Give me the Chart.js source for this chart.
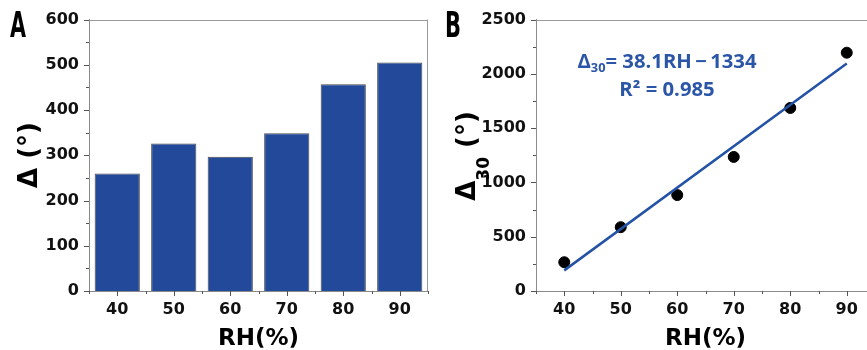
<!DOCTYPE html>
<html>
<head>
<meta charset="utf-8">
<script src="https://cdn.jsdelivr.net/npm/chart.js@4"></script>
<style>
  html, body { margin: 0; padding: 0; background: #fff; overflow: hidden; width: 867px; height: 350px; }
  #wrapA { position: absolute; left: 0; top: 0; width: 433px; height: 350px; }
  #wrapB { position: absolute; left: 433px; top: 0; width: 450px; height: 350px; }
</style>
</head>
<body>
<div id="wrapA"><canvas id="chartA"></canvas></div>
<div id="wrapB"><canvas id="chartB"></canvas></div>
<script>
// panel A: bars
const rhLabels = ["40", "50", "60", "70", "80", "90"];
const deltaValues = [260, 326, 297, 349, 457, 505];
const yTicksA = [0, 100, 200, 300, 400, 500, 600];

// panel B: scatter + linear fit
const rhPoints = [40, 50, 60, 70, 80, 90];
const delta30Values = [265, 588, 884, 1235, 1686, 2195];
const fitX = [40, 90];
const fitY = [190, 2095];
const xTicksB = [40, 50, 60, 70, 80, 90];
const yTicksB = [0, 500, 1000, 1500, 2000, 2500];

const blue = "#22499a";
const lineBlue = "#2452a4";
const textBlue = "#2b56a8";
const tickFont = { family: "DejaVu Sans", size: 16, weight: "bold" };

// frame on top/right and outward major/minor tick marks
const frameTicks = {
  id: "frameTicks",
  afterDraw(chart) {
    const { ctx, chartArea: a, scales } = chart;
    const x = scales.x, y = scales.y;
    ctx.save();
    ctx.lineWidth = 1;
    ctx.strokeStyle = "#9a9a9a";
    ctx.beginPath();
    ctx.moveTo(a.left, Math.round(a.top) + 0.5);
    ctx.lineTo(a.right, Math.round(a.top) + 0.5);
    ctx.moveTo(Math.round(a.right) - 0.5, a.top);
    ctx.lineTo(Math.round(a.right) - 0.5, a.bottom);
    ctx.stroke();

    ctx.strokeStyle = "#555";
    ctx.beginPath();
    // y ticks
    const yv = y.ticks.map(t => t.value);
    yv.forEach((v, i) => {
      const py = Math.round(y.getPixelForValue(v)) + 0.5;
      ctx.moveTo(a.left - 5, py); ctx.lineTo(a.left, py);
      if (i < yv.length - 1) {
        const pm = Math.round(y.getPixelForValue((v + yv[i + 1]) / 2)) + 0.5;
        ctx.moveTo(a.left - 3, pm); ctx.lineTo(a.left, pm);
      }
    });
    // x ticks
    const b = Math.round(a.bottom);
    if (x.type === "category") {
      const n = x.getLabels().length;
      for (let i = 0; i < n; i++) {
        const px = Math.round(x.getPixelForValue(i)) + 0.5;
        ctx.moveTo(px, b); ctx.lineTo(px, b + 5);
      }
      for (let i = 0; i <= n; i++) {
        const px = Math.round(x.getPixelForValue(i - 0.5)) + 0.5;
        ctx.moveTo(px, b); ctx.lineTo(px, b + 3);
      }
    } else {
      const xv = x.ticks.map(t => t.value);
      const step = xv[1] - xv[0];
      xv.forEach(v => {
        const px = Math.round(x.getPixelForValue(v)) + 0.5;
        ctx.moveTo(px, b); ctx.lineTo(px, b + 5);
      });
      const minors = xv.map(v => v - step / 2).concat([xv[xv.length - 1] + step / 2]);
      minors.forEach(v => {
        if (v < x.min || v > x.max) return;
        const px = Math.round(x.getPixelForValue(v)) + 0.5;
        ctx.moveTo(px, b); ctx.lineTo(px, b + 3);
      });
    }
    ctx.stroke();
    ctx.restore();
  }
};

function drawPanelLetter(ctx, letter, left, baseline, width) {
  ctx.save();
  ctx.fillStyle = "#000";
  ctx.font = 'bold 36px "Liberation Sans Narrow", "DejaVu Sans Condensed", sans-serif';
  const w = ctx.measureText(letter).width;
  ctx.translate(left, baseline);
  ctx.scale(width / w, 1);
  ctx.textAlign = "left";
  ctx.textBaseline = "alphabetic";
  ctx.fillText(letter, 0, 0);
  ctx.restore();
}

function drawXTitle(chart) {
  const { ctx, chartArea: a } = chart;
  ctx.save();
  ctx.fillStyle = "#000";
  ctx.font = 'bold 23px "DejaVu Sans"';
  ctx.textAlign = "center";
  ctx.textBaseline = "alphabetic";
  ctx.fillText("RH(%)", (a.left + a.right) / 2, 345);
  ctx.restore();
}

// y title drawn rotated, parts = [text, size, shift]
function drawYTitle(ctx, parts, baseX, centerY) {
  ctx.save();
  ctx.fillStyle = "#000";
  ctx.translate(baseX, centerY);
  ctx.rotate(-Math.PI / 2);
  ctx.textAlign = "left";
  ctx.textBaseline = "alphabetic";
  let total = 0;
  parts.forEach(p => { ctx.font = `bold ${p[1]}px "DejaVu Sans"`; total += ctx.measureText(p[0]).width; });
  let cx = -total / 2;
  parts.forEach(p => {
    ctx.font = `bold ${p[1]}px "DejaVu Sans"`;
    ctx.fillText(p[0], cx, p[2]);
    cx += ctx.measureText(p[0]).width;
  });
  ctx.restore();
}

const textsA = {
  id: "textsA",
  afterDraw(chart) {
    drawPanelLetter(chart.ctx, "A", 10, 37, 16);
    drawXTitle(chart);
    drawYTitle(chart.ctx, [["\u0394 (\u00b0)", 26, 0]], 37, 155);
  }
};

const textsB = {
  id: "textsB",
  afterDraw(chart) {
    const ctx = chart.ctx;
    drawPanelLetter(ctx, "B", 12, 37, 16);
    drawXTitle(chart);
    drawYTitle(ctx, [["\u0394", 26, 0], ["30", 17, 14], [" (\u00b0)", 26, 0]], 42, 156);

    // fit equation
    ctx.save();
    ctx.fillStyle = textBlue;
    ctx.textBaseline = "alphabetic";
    const big = 'bold 19px "Open Sans"', small = 'bold 12px "Open Sans"';
    const p1 = [["\u0394", big, 0], ["30", small, 4], ["= 38.1RH\u2009\u2212\u20091334", big, 0]];
    let w1 = 0;
    p1.forEach(p => { ctx.font = p[1]; w1 += ctx.measureText(p[0]).width; });
    const sx = 179 / w1;
    const cx = 234;
    ctx.save();
    ctx.translate(cx, 68);
    ctx.scale(sx, 1);
    let px = -w1 / 2;
    p1.forEach(p => { ctx.font = p[1]; ctx.fillText(p[0], px, p[2]); px += ctx.measureText(p[0]).width; });
    ctx.restore();
    ctx.save();
    ctx.translate(cx, 96);
    ctx.scale(sx, 1);
    ctx.font = big;
    ctx.textAlign = "center";
    ctx.fillText("R\u00b2 = 0.985", 0, 0);
    ctx.restore();
    ctx.restore();
  }
};

function baseScaleY(min, max, ticksArr, width) {
  return {
    min: min, max: max,
    afterBuildTicks: s => { s.ticks = ticksArr.map(v => ({ value: v })); },
    afterFit: s => { s.width = width; },
    grid: { display: false, drawTicks: false },
    border: { display: true, color: "#8a8a8a", width: 1 },
    ticks: { color: "#111", font: tickFont, padding: 10, callback: v => String(v) }
  };
}

function baseScaleX(width) {
  return {
    afterFit: s => { s.height = 59; },
    grid: { display: false, drawTicks: false },
    border: { display: true, color: "#8a8a8a", width: 1 },
    ticks: { color: "#111", font: tickFont, padding: 9 }
  };
}

new Chart(document.getElementById("chartA"), {
  type: "bar",
  data: {
    labels: rhLabels,
    datasets: [{
      data: deltaValues,
      backgroundColor: blue,
      borderColor: "#4a4a4a",
      borderWidth: 1,
      barPercentage: 0.8,
      categoryPercentage: 1.0
    }]
  },
  options: {
    responsive: true,
    maintainAspectRatio: false,
    animation: false,
    layout: { padding: { top: 17, right: 5, left: 0, bottom: 0 } },
    plugins: { legend: { display: false }, tooltip: { enabled: false } },
    scales: {
      x: baseScaleX(),
      y: baseScaleY(0, 600, yTicksA, 89)
    }
  },
  plugins: [frameTicks, textsA]
});

const xB = baseScaleX();
xB.type = "linear";
xB.min = 35;
xB.max = 95;
xB.afterBuildTicks = s => { s.ticks = xTicksB.map(v => ({ value: v })); };
xB.ticks.callback = v => String(v);

new Chart(document.getElementById("chartB"), {
  type: "scatter",
  data: {
    datasets: [
      {
        type: "line",
        data: fitX.map((v, i) => ({ x: v, y: fitY[i] })),
        borderColor: lineBlue,
        borderWidth: 2.5,
        pointRadius: 0,
        fill: false
      },
      {
        data: rhPoints.map((v, i) => ({ x: v, y: delta30Values[i] })),
        backgroundColor: "#000",
        borderColor: "#000",
        pointRadius: 5.5
      }
    ]
  },
  options: {
    responsive: true,
    maintainAspectRatio: false,
    animation: false,
    layout: { padding: { top: 17, right: 8, left: 0, bottom: 0 } },
    plugins: { legend: { display: false }, tooltip: { enabled: false } },
    scales: {
      x: xB,
      y: baseScaleY(0, 2500, yTicksB, 103)
    }
  },
  plugins: [frameTicks, textsB]
});
</script>
</body>
</html>
